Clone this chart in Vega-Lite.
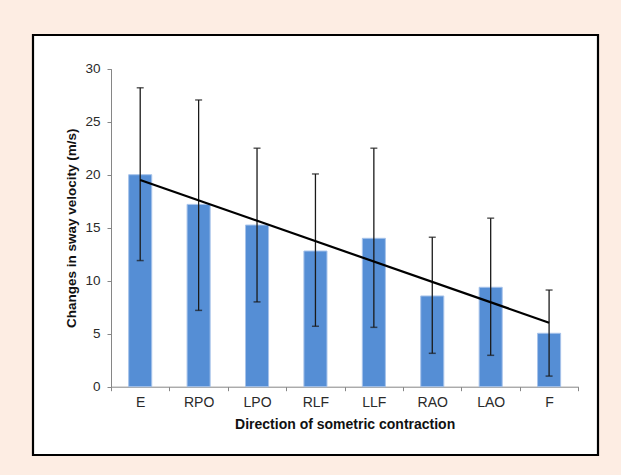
{
  "$schema": "https://vega.github.io/schema/vega-lite/v6.json",
  "width": 565,
  "height": 420,
  "autosize": {"type": "none"},
  "padding": {"left": 33, "top": 35, "right": 23, "bottom": 20},
  "background": "#fdede3",
  "config": {
    "view": {"fill": "white", "stroke": "black", "strokeWidth": 2.2},
    "font": "Liberation Sans",
    "axis": {
      "domainColor": "#868686",
      "tickColor": "#868686",
      "labelColor": "#2a2a2a",
      "titleColor": "#111111",
      "labelFont": "Liberation Sans",
      "titleFont": "Liberation Sans",
      "grid": false,
      "tickSize": 4
    }
  },
  "datasets": {
    "bars": [
      {"cat": "E", "value": 20.0, "lo": 11.9, "hi": 28.2},
      {"cat": "RPO", "value": 17.2, "lo": 7.2, "hi": 27.05},
      {"cat": "LPO", "value": 15.25, "lo": 8.0, "hi": 22.5},
      {"cat": "RLF", "value": 12.8, "lo": 5.7, "hi": 20.07},
      {"cat": "LLF", "value": 14.0, "lo": 5.6, "hi": 22.5},
      {"cat": "RAO", "value": 8.56, "lo": 3.15, "hi": 14.1},
      {"cat": "LAO", "value": 9.38, "lo": 2.96, "hi": 15.9},
      {"cat": "F", "value": 5.04, "lo": 1.0, "hi": 9.12}
    ],
    "trend": [
      {"cat": "E", "trend": 19.5},
      {"cat": "F", "trend": 6.04}
    ]
  },
  "encoding": {
    "x": {
      "field": "cat",
      "type": "nominal",
      "sort": ["E", "RPO", "LPO", "RLF", "LLF", "RAO", "LAO", "F"],
      "scale": {
        "domain": ["E", "RPO", "LPO", "RLF", "LLF", "RAO", "LAO", "F"],
        "range": [78, 545.3],
        "paddingInner": 0,
        "paddingOuter": 0
      },
      "axis": {
        "title": "Direction of sometric contraction",
        "titleFontSize": 14,
        "titleFontWeight": "bold",
        "titlePadding": 8,
        "labelFontSize": 14,
        "labelAngle": 0,
        "labelPadding": 5,
        "tickBand": "extent",
        "offset": -68.3
      }
    }
  },
  "layer": [
    {
      "data": {"name": "bars"},
      "mark": {"type": "bar", "width": {"band": 0.395}, "color": "#558ed5", "stroke": "#a7c3ea", "strokeWidth": 1},
      "encoding": {
        "y": {
          "field": "value",
          "type": "quantitative",
          "title": "Changes in sway velocity (m/s)",
          "scale": {"domain": [0, 30], "range": [351.7, 33.7], "nice": false, "zero": true},
          "axis": {
            "titleFontSize": 13.5,
            "titleFontWeight": "bold",
            "titlePadding": 6,
            "labelFontSize": 13.5,
            "labelPadding": 7,
            "values": [0, 5, 10, 15, 20, 25, 30],
            "offset": -78
          }
        }
      }
    },
    {
      "data": {"name": "bars"},
      "mark": {"type": "errorbar", "color": "#1a1a1a", "thickness": 1.3, "ticks": {"size": 7, "thickness": 1.5, "color": "#1a1a1a"}},
      "encoding": {
        "y": {"field": "lo", "type": "quantitative", "title": "Changes in sway velocity (m/s)"},
        "y2": {"field": "hi"}
      }
    },
    {
      "data": {"name": "trend"},
      "mark": {"type": "line", "color": "black", "strokeWidth": 2.2},
      "encoding": {
        "y": {"field": "trend", "type": "quantitative", "title": "Changes in sway velocity (m/s)"}
      }
    }
  ]
}
